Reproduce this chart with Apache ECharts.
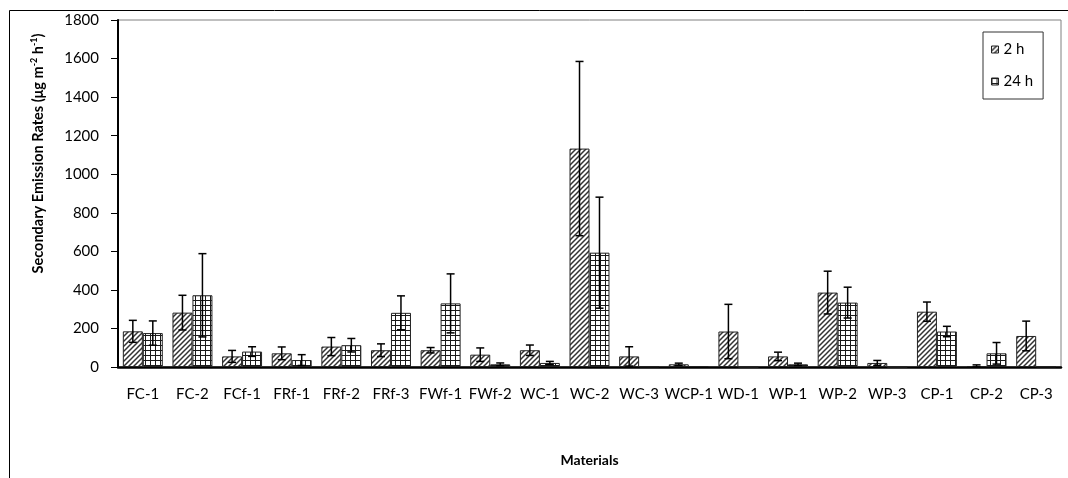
<!DOCTYPE html>
<html>
<head>
<meta charset="utf-8">
<script src="https://cdn.jsdelivr.net/npm/echarts@6/dist/echarts.min.js"></script>
<style>
html,body{margin:0;padding:0;background:#fff;}
#chart{width:1068px;height:478px;}
</style>
</head>
<body>
<div id="chart"></div>
<script>
// ---- data ----
const categories = ['FC-1','FC-2','FCf-1','FRf-1','FRf-2','FRf-3','FWf-1','FWf-2','WC-1','WC-2','WC-3','WCP-1','WD-1','WP-1','WP-2','WP-3','CP-1','CP-2','CP-3'];
const values2h  = [185, 282, 55, 71, 106, 87, 87, 64, 87, 1133, 55, 14, 184, 55, 386, 21, 287, 5, 161];
const sd2h      = [57, 90, 31, 33, 47, 33, 14, 35, 27, 452, 50, 6, 141, 22, 111, 13, 50, 6, 77];
const values24h = [176, 372, 80, 36, 113, 281, 330, 14, 21, 593, 3, 5, 0, 14, 334, 0, 184, 71, 3];
const sd24h     = [63, 216, 25, 28, 35, 88, 153, 7, 8, 288, 0, 0, 0, 6, 80, 0, 27, 56, 0];
const seriesNames = ['2 h', '24 h'];
const yTicks = {min: 0, max: 1800, interval: 200};

// ---- patterns ----
function hatchPattern() {
  const s = 5, c = document.createElement('canvas');
  c.width = s; c.height = s;
  const g = c.getContext('2d');
  g.fillStyle = '#fff'; g.fillRect(0, 0, s, s);
  g.strokeStyle = '#333'; g.lineWidth = 1.5;
  g.beginPath();
  g.moveTo(-1, s + 1); g.lineTo(s + 1, -1);
  g.moveTo(-1, 1); g.lineTo(1, -1);
  g.moveTo(s - 1, s + 1); g.lineTo(s + 1, s - 1);
  g.stroke();
  return c;
}
function gridPattern() {
  const s = 5, c = document.createElement('canvas');
  c.width = s; c.height = s;
  const g = c.getContext('2d');
  g.fillStyle = '#fff'; g.fillRect(0, 0, s, s);
  g.fillStyle = '#1a1a1a';
  g.fillRect(0, 0, s, 1);
  g.fillRect(0, 0, 1, s);
  return c;
}
const fills = [{image: hatchPattern(), repeat: 'repeat'}, {image: gridPattern(), repeat: 'repeat'}];

const CAT_GAP = 0.195;
function errSeries(vals, sds, side) {
  const data = vals.map((v, i) => [i, v - sds[i], v + sds[i], sds[i]]);
  return {
    type: 'custom',
    name: 'err' + side,
    z: 5,
    silent: true,
    data: data,
    encode: {x: 0, y: [1, 2]},
    renderItem: function (params, api) {
      const sd = api.value(3);
      if (!sd) return null;
      const i = api.value(0);
      const top = api.coord([i, api.value(2)]);
      const bot = api.coord([i, Math.max(0, api.value(1))]);
      const band = api.size([1, 0])[0];
      const bw = band * (1 - CAT_GAP) / 2;
      const x = top[0] + side * bw / 2;
      const hw = 4;
      const st = {stroke: '#000', lineWidth: 1.5};
      return {
        type: 'group',
        children: [
          {type: 'line', shape: {x1: x, y1: top[1], x2: x, y2: bot[1]}, style: st},
          {type: 'line', shape: {x1: x - hw, y1: top[1], x2: x + hw, y2: top[1]}, style: st},
          {type: 'line', shape: {x1: x - hw, y1: bot[1], x2: x + hw, y2: bot[1]}, style: st}
        ]
      };
    }
  };
}

const FONT = 'Lato';
const chart = echarts.init(document.getElementById('chart'), null, {renderer: 'canvas'});
chart.setOption({
  animation: false,
  textStyle: {fontFamily: FONT, color: '#000'},
  graphic: [{
    type: 'rect', shape: {x: 9.5, y: 10.5, width: 1080, height: 500},
    style: {fill: null, stroke: '#000', lineWidth: 1}, silent: true, z: -10
  }],
  grid: {left: 118, right: 7, top: 20, bottom: 111, show: true, borderColor: '#808080', borderWidth: 1, backgroundColor: 'transparent'},
  legend: {
    data: seriesNames,
    orient: 'vertical',
    left: 983, top: 32,
    itemWidth: 7, itemHeight: 7, itemGap: 17,
    borderColor: '#333', borderWidth: 1,
    padding: [10, 10, 10, 8],
    textStyle: {fontFamily: FONT, fontSize: 15, color: '#000'},
    icon: 'rect',
    itemStyle: {borderColor: '#222', borderWidth: 1}
  },
  xAxis: {
    type: 'category',
    data: categories,
    name: 'Materials',
    nameLocation: 'middle',
    nameGap: 86,
    nameTextStyle: {fontFamily: FONT, fontSize: 14, fontWeight: 'bold', color: '#000'},
    axisLine: {lineStyle: {color: '#000', width: 2.5}},
    axisTick: {show: false},
    axisLabel: {fontFamily: FONT, fontSize: 15, color: '#000', margin: 20, interval: 0}
  },
  yAxis: {
    type: 'value',
    min: yTicks.min, max: yTicks.max, interval: yTicks.interval,
    name: 'Secondary Emission Rates (μg m{sup|-2} h{sup|-1})',
    nameLocation: 'middle',
    nameRotate: 90,
    nameGap: 72,
    nameTextStyle: {
      fontFamily: FONT, fontSize: 14.5, fontWeight: 'bold', color: '#000',
      padding: [0, 0, 0, 80], lineHeight: 16,
      rich: {sup: {fontFamily: FONT, fontSize: 9, fontWeight: 'bold', color: '#000', verticalAlign: 'top', lineHeight: 16}}
    },
    splitLine: {show: false},
    axisLine: {show: true, lineStyle: {color: '#000', width: 2}},
    axisTick: {show: true, inside: false, length: 7, lineStyle: {color: '#000', width: 1}},
    axisLabel: {fontFamily: FONT, fontSize: 15, color: '#000', margin: 19, formatter: function (v) { return String(v); }}
  },
  series: [
    {name: seriesNames[0], type: 'bar', data: values2h, barGap: '0%', barCategoryGap: (CAT_GAP * 100) + '%',
     itemStyle: {color: fills[0], borderColor: '#222', borderWidth: 1}},
    {name: seriesNames[1], type: 'bar', data: values24h, barGap: '0%', barCategoryGap: (CAT_GAP * 100) + '%',
     itemStyle: {color: fills[1], borderColor: '#222', borderWidth: 1}},
    errSeries(values2h, sd2h, -1),
    errSeries(values24h, sd24h, 1)
  ]
});
</script>
</body>
</html>
